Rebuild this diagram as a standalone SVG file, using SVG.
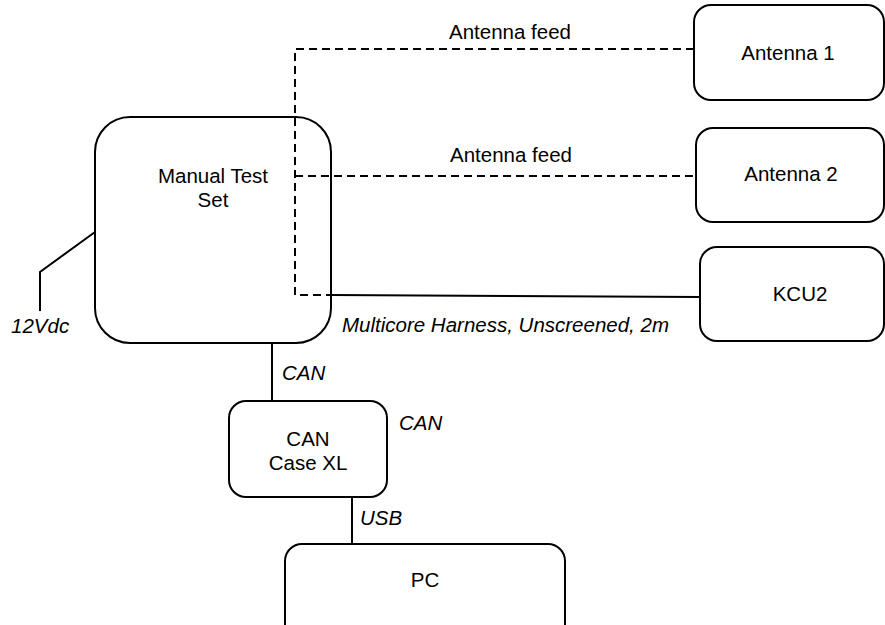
<svg xmlns="http://www.w3.org/2000/svg" width="885" height="625" viewBox="0 0 885 625">
<style>
.box{fill:#fff;stroke:#000;stroke-width:2}
.t{font-family:"Liberation Sans",Arial,sans-serif;font-size:20.5px;fill:#000;text-anchor:middle}
.i{font-family:"Liberation Sans",Arial,sans-serif;font-size:20.5px;fill:#000;font-style:italic}
.w{fill:none;stroke:#000;stroke-width:2}
.d{fill:none;stroke:#000;stroke-width:2;stroke-dasharray:8 5}
</style>
<rect width="885" height="625" fill="#fff"/>
<g id="mts"><rect class="box" x="95" y="117" width="236" height="226" rx="35"/><text class="t" x="213" y="183">Manual Test</text><text class="t" x="213" y="207">Set</text></g>
<g id="antenna1"><rect class="box" x="694" y="5" width="190" height="95" rx="17"/><text class="t" x="788" y="60">Antenna 1</text></g>
<g id="antenna2"><rect class="box" x="696" y="128" width="188" height="94" rx="17"/><text class="t" x="791" y="181">Antenna 2</text></g>
<g id="kcu2"><rect class="box" x="700" y="247" width="184" height="94" rx="17"/><text class="t" x="800" y="301">KCU2</text></g>
<g id="cancase"><rect class="box" x="229" y="401" width="158" height="96" rx="17"/><text class="t" x="308" y="446">CAN</text><text class="t" x="308" y="470">Case XL</text></g>
<g id="pc"><rect class="box" x="285" y="544" width="280" height="100" rx="17"/><text class="t" x="425" y="587">PC</text></g>
<g id="connectors">
<path class="d" d="M694 49H295V295H331"/>
<path class="d" d="M295 176H696"/>
<path class="w" d="M331 295L700 297"/>
<path class="w" d="M95 232L40 272V311"/>
<path class="w" d="M272 343V401"/>
<path class="w" d="M352 497V544"/>
</g>
<g id="labels">
<text class="t" x="510" y="39">Antenna feed</text>
<text class="t" x="511" y="162">Antenna feed</text>
<text class="i" x="342" y="332">Multicore Harness, Unscreened, 2m</text>
<text class="i" x="11" y="333">12Vdc</text>
<text class="i" x="282" y="380">CAN</text>
<text class="i" x="399" y="430">CAN</text>
<text class="i" x="360" y="525">USB</text>
</g>
</svg>
